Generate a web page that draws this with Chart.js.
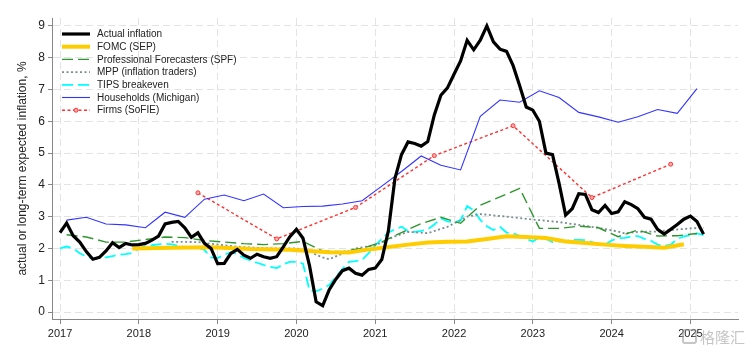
<!DOCTYPE html>
<html>
<head>
<meta charset="utf-8">
<script src="https://cdn.jsdelivr.net/npm/chart.js@4.4.1/dist/chart.umd.min.js"></script>
<style>
  html, body { margin: 0; padding: 0; background: #fff; }
  #wrap { position: relative; width: 756px; height: 354px; }
  #wm { position: absolute; left: 682px; top: 329px; font: 15px "Noto Sans CJK SC", sans-serif; color: rgba(150, 150, 150, 0.55); line-height: 16px; }
  #wm span { display: inline-block; width: 11px; height: 11px; border: 2px solid rgba(150, 150, 150, 0.55); border-radius: 3px; vertical-align: -1px; margin-right: 3px; }
</style>
</head>
<body>
<div id="wrap">
  <canvas id="chart" width="756" height="354"></canvas>
  <div id="wm"><span></span>格隆汇</div>
</div>
<script>
// monthly series start Jan 2017
var actualInflation = [
    2.5, 2.8, 2.4, 2.2, 1.9, 1.66, 1.72, 1.92, 2.18, 2.03, 2.16, 2.11,
    2.12, 2.16, 2.26, 2.39, 2.77, 2.82, 2.85, 2.65, 2.35, 2.49, 2.16, 2.0,
    1.52, 1.53, 1.84, 1.97, 1.79, 1.69, 1.82, 1.74, 1.69, 1.74, 2.05, 2.37,
    2.6, 2.32, 1.45, 0.32, 0.2, 0.7, 1.03, 1.3, 1.38, 1.22, 1.16, 1.34,
    1.38, 1.65, 2.55, 4.2, 4.95, 5.35, 5.3, 5.22, 5.36, 6.2, 6.82, 7.05,
    7.48, 7.9, 8.55, 8.25, 8.55, 9.0, 8.5, 8.27, 8.2, 7.75, 7.12, 6.45,
    6.35, 6.0, 5.0, 4.95, 4.05, 3.05, 3.25, 3.72, 3.7, 3.22, 3.13, 3.35,
    3.1, 3.15, 3.47, 3.38, 3.25, 2.98, 2.92, 2.6, 2.45, 2.6, 2.75, 2.92,
    3.02, 2.85, 2.45
];
var tipsBreakeven = [
    2.0, 2.06, 2.0, 1.85, 1.75, 1.68, 1.7, 1.72, 1.76, 1.8, 1.82, 1.86,
    2.0, 2.08, 2.1, 2.13, 2.15, 2.13, 2.08, 2.05, 2.05, 2.03, 1.95, 1.72,
    1.7, 1.8, 1.88, 1.82, 1.7, 1.62, 1.55, 1.48, 1.42, 1.38, 1.5, 1.58,
    1.58, 1.52, 0.68, 0.66, 0.73, 0.85, 1.1, 1.35, 1.58, 1.6, 1.64, 1.85,
    2.1, 2.3, 2.5, 2.6, 2.68, 2.55, 2.52, 2.55, 2.6, 2.75, 2.95, 2.85,
    2.82, 2.88, 3.33, 3.2, 2.9, 2.7, 2.58, 2.68, 2.5, 2.47, 2.4, 2.3,
    2.22, 2.35, 2.3, 2.2, 2.22, 2.24, 2.27, 2.27, 2.26, 2.2, 2.12, 2.12,
    2.25, 2.32, 2.33, 2.38, 2.39, 2.3, 2.24, 2.12, 2.08, 2.12, 2.3, 2.38,
    2.42, 2.47, 2.42
];

// quarterly surveys (Feb, May, Aug, Nov), Feb 2017 .. Feb 2025
var quarterDates = [
    '2017-02', '2017-05', '2017-08', '2017-11', '2018-02', '2018-05', '2018-08', '2018-11',
    '2019-02', '2019-05', '2019-08', '2019-11', '2020-02', '2020-05', '2020-08', '2020-11',
    '2021-02', '2021-05', '2021-08', '2021-11', '2022-02', '2022-05', '2022-08', '2022-11',
    '2023-02', '2023-05', '2023-08', '2023-11', '2024-02', '2024-05', '2024-08', '2024-11',
    '2025-02'
];
var spf = [
    2.43, 2.36, 2.2, 2.2, 2.28, 2.36, 2.34, 2.25,
    2.2, 2.15, 2.12, 2.15, 2.22, 1.92, 1.9, 2.0,
    2.2, 2.5, 2.78, 2.98, 2.79, 3.36, 3.62, 3.89,
    2.63, 2.63, 2.7, 2.65, 2.37, 2.58, 2.39, 2.4,
    2.47
];
var michigan = [
    2.89, 2.98, 2.77, 2.74, 2.65, 3.14, 2.98, 3.55,
    3.68, 3.5, 3.71, 3.28, 3.32, 3.33, 3.4, 3.5,
    3.96, 4.42, 4.91, 4.62, 4.47, 6.16, 6.67, 6.6,
    6.96, 6.75, 6.28, 6.14, 5.97, 6.14, 6.37, 6.25,
    7.03
];

var fomcDates = ['2017-12', '2018-06', '2018-12', '2019-06', '2019-12', '2020-06', '2020-09', '2020-12',
    '2021-06', '2021-09', '2021-12', '2022-03', '2022-06', '2022-09', '2022-12', '2023-03',
    '2023-06', '2023-09', '2023-12', '2024-03', '2024-06', '2024-09', '2024-12'];
var fomc = [2.0, 2.02, 2.04, 1.98, 1.96, 1.88, 1.87, 1.97,
    2.12, 2.19, 2.21, 2.22, 2.3, 2.38, 2.36, 2.33,
    2.22, 2.17, 2.12, 2.08, 2.05, 2.02, 2.13];

var mppDates = ['2018-06', '2018-10', '2019-01', '2019-04', '2019-07', '2019-10', '2020-01', '2020-03',
    '2020-04', '2020-05', '2020-06', '2020-08', '2020-10', '2021-01', '2021-04', '2021-06',
    '2021-09', '2021-12', '2022-03', '2022-05', '2022-09', '2023-01', '2023-05', '2023-08',
    '2023-11', '2024-02', '2024-03', '2024-05', '2024-08', '2024-10', '2025-01', '2025-03'];
var mpp = [2.21, 2.2, 2.12, 2.05, 2.02, 2.0, 2.0, 1.93,
    1.8, 1.72, 1.66, 1.84, 2.0, 2.1, 2.38, 2.52,
    2.48, 2.68, 3.0, 3.08, 3.0, 2.91, 2.83, 2.74,
    2.65, 2.53, 2.47, 2.52, 2.53, 2.58, 2.63, 2.65];

var sofieDates = ['2018-10', '2019-10', '2020-10', '2021-10', '2022-10', '2023-10', '2024-10'];
var sofie = [3.75, 2.3, 3.29, 4.92, 5.86, 3.6, 4.65];

var xTicks = [2017, 2018, 2019, 2020, 2021, 2022, 2023, 2024, 2025];
var yTicks = [0, 1, 2, 3, 4, 5, 6, 7, 8, 9];

function toYear(s) {
    var p = s.split('-');
    return Number(p[0]) + (Number(p[1]) - 1) / 12;
}

function pairs(dates, values) {
    return values.map(function (v, i) { return { x: toYear(dates[i]), y: v }; });
}

function monthly(values) {
    return values.map(function (v, i) { return { x: 2017 + i / 12, y: v }; });
}

var FONT = '"Liberation Sans", Arial, sans-serif';

// legend drawn inside the plot, top-left
var insideLegend = {
    id: 'insideLegend',
    afterDraw: function (chart) {
        var ctx = chart.ctx;
        ctx.save();
        ctx.font = '10px ' + FONT;
        ctx.textBaseline = 'middle';
        chart.data.datasets.forEach(function (ds, i) {
            var y = 34 + i * 12.7;
            ctx.beginPath();
            ctx.setLineDash(ds.borderDash || []);
            ctx.lineWidth = ds.borderWidth;
            ctx.strokeStyle = ds.borderColor;
            ctx.moveTo(62, y);
            ctx.lineTo(90, y);
            ctx.stroke();
            ctx.setLineDash([]);
            if (ds.pointRadius > 0) {
                ctx.beginPath();
                ctx.arc(76, y, ds.pointRadius, 0, Math.PI * 2);
                ctx.fillStyle = ds.pointBackgroundColor;
                ctx.fill();
                ctx.lineWidth = 1;
                ctx.stroke();
            }
            ctx.fillStyle = '#222';
            ctx.fillText(ds.label, 97, y + 0.5);
        });
        ctx.restore();
    }
};

var base = { fill: false, tension: 0, pointRadius: 0 };

function line(label, data, color, width, dash, extra) {
    var ds = Object.assign({}, base, {
        label: label,
        data: data,
        borderColor: color,
        borderWidth: width,
        borderDash: dash
    });
    return Object.assign(ds, extra || {});
}

new Chart(document.getElementById('chart').getContext('2d'), {
    type: 'line',
    data: {
        datasets: [
            line('Actual inflation', monthly(actualInflation), '#000000', 3.2, []),
            line('FOMC (SEP)', pairs(fomcDates, fomc), '#ffcc00', 4, []),
            line('Professional Forecasters (SPF)', pairs(quarterDates, spf), '#2f962f', 1.4, [11, 5]),
            line('MPP (inflation traders)', pairs(mppDates, mpp), '#7a8f8f', 1.8, [2, 2.5]),
            line('TIPS breakeven', monthly(tipsBreakeven), '#00ffff', 1.8, [11, 5]),
            line('Households (Michigan)', pairs(quarterDates, michigan), '#3333ff', 1.1, []),
            line('Firms (SoFIE)', pairs(sofieDates, sofie), '#ff3030', 1.4, [3, 2.5], {
                pointRadius: 2,
                pointBorderWidth: 1,
                pointBackgroundColor: '#ffb0b0',
                pointBorderColor: '#ff3030'
            })
        ]
    },
    options: {
        responsive: false,
        animation: false,
        layout: { padding: { top: 18, right: 18, left: 0, bottom: 0 } },
        plugins: {
            legend: { display: false },
            tooltip: { enabled: false }
        },
        scales: {
            x: {
                type: 'linear',
                min: 2016.898,
                max: 2025.604,
                afterBuildTicks: function (s) {
                    s.ticks = xTicks.map(function (v) { return { value: v }; });
                },
                afterFit: function (s) { s.height = 35; },
                grid: { color: '#e3e3e3', tickColor: '#888', tickLength: 5 },
                border: { color: '#888', dash: [7, 4] },
                ticks: {
                    padding: 3,
                    color: '#222',
                    maxRotation: 0,
                    font: { size: 11, family: FONT },
                    callback: function (v) { return String(v); }
                }
            },
            y: {
                min: -0.22,
                max: 9.25,
                afterBuildTicks: function (s) {
                    s.ticks = yTicks.map(function (v) { return { value: v }; });
                },
                afterFit: function (s) { s.width = 52; },
                grid: { color: '#e3e3e3', tickColor: '#888', tickLength: 4 },
                border: { color: '#888', dash: [7, 4] },
                ticks: {
                    padding: 3,
                    color: '#222',
                    font: { size: 12, family: FONT },
                    callback: function (v) { return String(v); }
                },
                title: {
                    display: true,
                    text: 'actual or long-term expected inflation, %',
                    color: '#222',
                    font: { size: 12, family: FONT },
                    padding: { top: 15, bottom: 0 }
                }
            }
        }
    },
    plugins: [insideLegend]
});
</script>
</body>
</html>
